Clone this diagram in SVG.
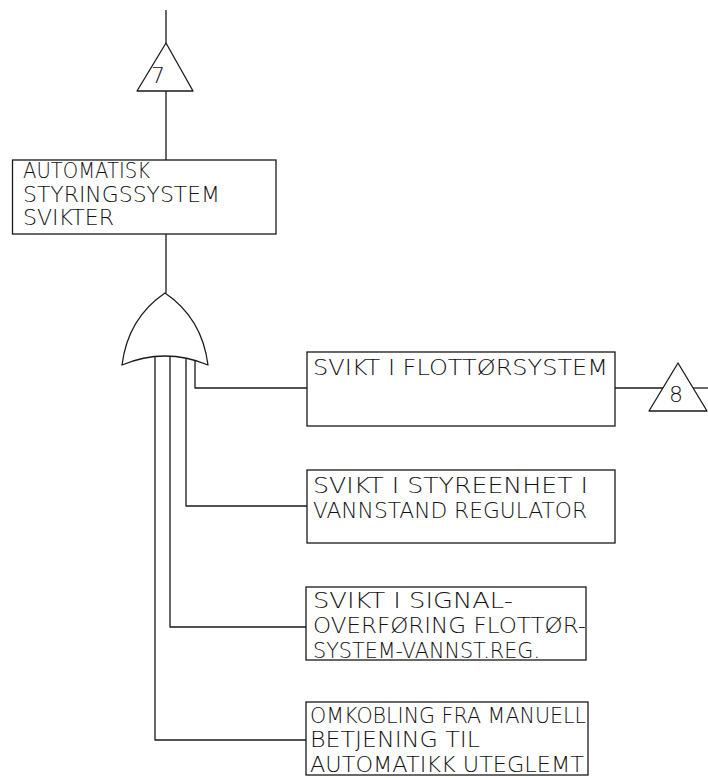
<svg xmlns="http://www.w3.org/2000/svg" width="708" height="778" viewBox="0 0 708 778">
<style>
.ln{fill:none;stroke:#1a1a1a;stroke-width:1.3;stroke-linejoin:round}
.bx{fill:#fff;stroke:#1a1a1a;stroke-width:1.3}
.t{font-family:"DejaVu Sans","Liberation Sans",Arial,sans-serif;font-size:21px;font-weight:200;fill:#111}
.n{font-family:"DejaVu Sans","Liberation Sans",Arial,sans-serif;font-size:22px;font-weight:200;fill:#111;text-anchor:middle}
</style>
<rect width="708" height="778" fill="#fff"/>
<g id="connectors">
<line class="ln" x1="166" y1="10" x2="166" y2="43"/>
<line class="ln" x1="166" y1="91" x2="166" y2="160"/>
<line class="ln" x1="166" y1="234" x2="166" y2="293"/>
<polyline class="ln" points="195,360.5 195,388 307,388"/>
<polyline class="ln" points="186,358 186,506 307,506"/>
<polyline class="ln" points="170,356 170,627 306,627"/>
<polyline class="ln" points="155,356.5 155,740 306,740"/>
<line class="ln" x1="615" y1="388" x2="663" y2="388"/>
<line class="ln" x1="693" y1="388" x2="708" y2="388"/>
</g>
<g id="transfer7">
<polygon class="ln" points="166,43 137,91 193,91"/>
<text class="n" x="158" y="83">7</text>
</g>
<g id="top-event">
<rect class="bx" x="12.5" y="160" width="263.5" height="74"/>
<text class="t" x="23" y="178" textLength="127" lengthAdjust="spacingAndGlyphs">AUTOMATISK</text>
<text class="t" x="23" y="201.5" textLength="197" lengthAdjust="spacingAndGlyphs">STYRINGSSYSTEM</text>
<text class="t" x="23" y="225" textLength="91" lengthAdjust="spacingAndGlyphs">SVIKTER</text>
</g>
<g id="or-gate">
<path class="ln" d="M165,293 Q128,318 122,365 Q165,347 208,365 Q202,318 165,293 Z"/>
</g>
<g id="event1">
<rect class="bx" x="307" y="352" width="308" height="74"/>
<text class="t" x="313" y="375" textLength="295" lengthAdjust="spacingAndGlyphs">SVIKT I FLOTTØRSYSTEM</text>
</g>
<g id="transfer8">
<polygon class="ln" points="678,363 649,411 707,411"/>
<text class="n" x="676" y="402">8</text>
</g>
<g id="event2">
<rect class="bx" x="307" y="470" width="308" height="73"/>
<text class="t" x="313" y="493" textLength="275" lengthAdjust="spacingAndGlyphs">SVIKT I STYREENHET I</text>
<text class="t" x="313" y="518" textLength="274" lengthAdjust="spacingAndGlyphs">VANNSTAND REGULATOR</text>
</g>
<g id="event3">
<rect class="bx" x="306" y="587" width="280" height="73"/>
<text class="t" x="313" y="608" textLength="200" lengthAdjust="spacingAndGlyphs">SVIKT I SIGNAL-</text>
<text class="t" x="313" y="633" textLength="273" lengthAdjust="spacingAndGlyphs">OVERFØRING FLOTTØR-</text>
<text class="t" x="313" y="658" textLength="227" lengthAdjust="spacingAndGlyphs">SYSTEM-VANNST.REG.</text>
</g>
<g id="event4">
<rect class="bx" x="306" y="702" width="282" height="73"/>
<text class="t" x="310" y="723" textLength="276" lengthAdjust="spacingAndGlyphs">OMKOBLING FRA MANUELL</text>
<text class="t" x="310" y="747" textLength="170" lengthAdjust="spacingAndGlyphs">BETJENING TIL</text>
<text class="t" x="310" y="772" textLength="274" lengthAdjust="spacingAndGlyphs">AUTOMATIKK UTEGLEMT</text>
</g>
</svg>
